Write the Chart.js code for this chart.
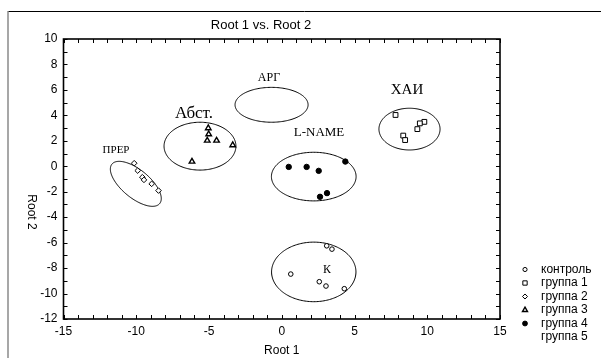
<!DOCTYPE html>
<html><head><meta charset="utf-8">
<script src="https://cdn.jsdelivr.net/npm/chart.js@4"></script>
<style>html,body{margin:0;padding:0;background:#fff}#wrap{width:601px;height:358px;position:relative}</style>
</head><body><div id="wrap"><canvas id="c"></canvas></div>
<script>
// ---- data ----
const seriesNames = ['контроль','группа 1','группа 2','группа 3','группа 4','группа 5'];
const controlX = [3.09, 3.45, 0.62, 2.58, 3.04, 4.30];
const controlY = [-6.25, -6.51, -8.47, -9.07, -9.41, -9.62];
const group1X = [7.82, 9.80, 9.49, 9.32, 8.35, 8.48];
const group1Y = [4.03, 3.49, 3.37, 2.92, 2.41, 2.06];
const group2X = [-10.14, -9.90, -9.58, -9.47, -8.94, -8.47];
const group2Y = [0.24, -0.34, -0.86, -1.07, -1.38, -1.91];
const group3X = [-5.05, -5.02, -5.12, -4.48, -3.37, -6.17];
const group3Y = [3.00, 2.52, 2.02, 2.02, 1.66, 0.37];
const group4X = [0.48, 1.71, 2.54, 4.37, 3.11, 2.63];
const group4Y = [-0.05, -0.05, -0.36, 0.37, -2.11, -2.40];
const group5X = [];
const group5Y = [];
// confidence ellipses (centre + two conjugate semi-axis vectors, data units)
const ellipseNames = ['АРГ','Абст.','ПРЕР','L-NAME','ХАИ','К'];
const ellipseCX = [-0.70, -5.62, -10.03, 2.20, 8.78, 2.20];
const ellipseCY = [4.83, 1.58, -1.38, -0.81, 2.92, -8.30];
const ellipseUX = [2.51, 2.47, 1.64, 2.91, 2.10, 2.90];
const ellipseUY = [0, 0, -1.55, 0, 0, 0];
const ellipseVX = [0, 0, -0.61, 0, 0, 0];
const ellipseVY = [1.37, 1.88, -0.85, 1.91, 1.64, 2.34];
// group labels
const labelTexts = ['АРГ','Абст.','ПРЕР','L-NAME','ХАИ','К'];
const labelX = [-0.88, -6.03, -11.39, 2.56, 8.61, 3.11];
const labelY = [6.94, 4.11, 1.29, 2.62, 6.00, -8.13];
const xTickMin = -15, xTickMax = 15, yTickMin = -12, yTickMax = 10;

// ---- styles ----
const SANS = '"Liberation Sans", Arial, sans-serif';
const SERIF = '"Liberation Serif", "Times New Roman", serif';
const labelSizes = [12, 17, 11, 13, 15, 12];
const styles = [
  {pointStyle:'circle', radius:2.3, borderWidth:1, backgroundColor:'#fff'},
  {pointStyle:'rect', radius:3.4, borderWidth:1, backgroundColor:'#fff'},
  {pointStyle:'rectRot', radius:2.8, borderWidth:1, backgroundColor:'#fff'},
  {pointStyle:'triangle', radius:3.2, borderWidth:1.4, backgroundColor:'#fff'},
  {pointStyle:'circle', radius:2.7, borderWidth:1, backgroundColor:'#000'},
  {pointStyle:false, radius:0, borderWidth:0, backgroundColor:'#fff'}
];
const xsAll = [controlX, group1X, group2X, group3X, group4X, group5X];
const ysAll = [controlY, group1Y, group2Y, group3Y, group4Y, group5Y];

const datasets = seriesNames.map((n,i)=>({
  label:n,
  data: xsAll[i].map((x,j)=>({x:x, y:ysAll[i][j]})),
  pointStyle: styles[i].pointStyle,
  pointRadius: styles[i].radius,
  pointBorderWidth: styles[i].borderWidth,
  pointBackgroundColor: styles[i].backgroundColor,
  pointBorderColor:'#000',
  showLine:false
}));

const deco = {
  id:'deco',
  beforeDraw(chart){
    const ctx = chart.ctx;
    ctx.save();
    ctx.fillStyle='#fff'; ctx.fillRect(0,0,chart.width,chart.height);
    ctx.strokeStyle='#000'; ctx.lineWidth=1;
    ctx.beginPath(); ctx.moveTo(8,11.5); ctx.lineTo(601,11.5); ctx.stroke();
    ctx.strokeStyle='#8a8a8a'; ctx.lineWidth=1.5;
    ctx.beginPath(); ctx.moveTo(8,11); ctx.lineTo(8,358); ctx.stroke();
    ctx.restore();
  },
  beforeDatasetsDraw(chart){
    const ctx = chart.ctx, xs = chart.scales.x, ys = chart.scales.y;
    ctx.save();
    ctx.strokeStyle='#000'; ctx.lineWidth=1;
    for(let i=0;i<ellipseCX.length;i++){
      ctx.beginPath();
      for(let k=0;k<=180;k++){
        const t = k/180*Math.PI*2;
        const dx = ellipseCX[i] + ellipseUX[i]*Math.cos(t) + ellipseVX[i]*Math.sin(t);
        const dy = ellipseCY[i] + ellipseUY[i]*Math.cos(t) + ellipseVY[i]*Math.sin(t);
        const px = xs.getPixelForValue(dx), py = ys.getPixelForValue(dy);
        if(k===0) ctx.moveTo(px,py); else ctx.lineTo(px,py);
      }
      ctx.closePath(); ctx.stroke();
    }
    ctx.fillStyle='#000'; ctx.textAlign='center'; ctx.textBaseline='middle';
    for(let i=0;i<labelTexts.length;i++){
      ctx.font = labelSizes[i]+'px '+SERIF;
      ctx.fillText(labelTexts[i], xs.getPixelForValue(labelX[i]), ys.getPixelForValue(labelY[i]));
    }
    ctx.restore();
  },
  afterDraw(chart){
    const ctx = chart.ctx, a = chart.chartArea, xs = chart.scales.x, ys = chart.scales.y;
    ctx.save();
    ctx.strokeStyle='#000'; ctx.lineWidth=1.6;
    ctx.strokeRect(a.left, a.top, a.right-a.left, a.bottom-a.top);
    ctx.lineWidth=1;
    const L=4;
    ctx.beginPath();
    xs.ticks.forEach(t=>{
      const p = Math.round(xs.getPixelForValue(t.value))+0.5;
      ctx.moveTo(p,a.bottom); ctx.lineTo(p,a.bottom-L);
      ctx.moveTo(p,a.top); ctx.lineTo(p,a.top+L);
    });
    ys.ticks.forEach(t=>{
      const p = Math.round(ys.getPixelForValue(t.value))+0.5;
      ctx.moveTo(a.left,p); ctx.lineTo(a.left+L,p);
      ctx.moveTo(a.right,p); ctx.lineTo(a.right-L,p);
    });
    ctx.stroke();
    // titles
    ctx.fillStyle='#000'; ctx.textAlign='center'; ctx.textBaseline='middle';
    ctx.font='13px '+SANS;
    ctx.fillText('Root 1 vs. Root 2', 261, 25);
    ctx.font='12px '+SANS;
    ctx.fillText('Root 1', (a.left+a.right)/2, 351);
    ctx.save(); ctx.translate(31,212); ctx.rotate(Math.PI/2);
    ctx.fillText('Root 2', 0, 0); ctx.restore();
    // legend
    const rows = [269.5, 283, 296.5, 310, 323.5, 337];
    ctx.textAlign='left';
    seriesNames.forEach((n,i)=>{
      const s = styles[i];
      if(s.pointStyle){
        ctx.fillStyle = s.backgroundColor; ctx.strokeStyle='#000'; ctx.lineWidth=s.borderWidth;
        Chart.helpers.drawPoint(ctx, {pointStyle:s.pointStyle, radius:s.radius*0.9, rotation:0, borderWidth:s.borderWidth}, 525, rows[i]);
      }
      ctx.fillStyle='#000';
      ctx.fillText(n, 541, rows[i]);
    });
    ctx.restore();
  }
};

new Chart(document.getElementById('c'), {
  type:'scatter',
  data:{datasets},
  options:{
    responsive:true, maintainAspectRatio:false, animation:false,
    layout:{padding:{top:39, right:101, bottom:0, left:0}},
    plugins:{legend:{display:false}, title:{display:false}, tooltip:{enabled:false}},
    scales:{
      x:{type:'linear', min:xTickMin, max:xTickMax,
         grid:{display:false, drawTicks:false}, border:{display:false},
         ticks:{stepSize:1, autoSkip:false, maxRotation:0, padding:5, color:'#000',
                font:{family:SANS, size:12},
                callback:v=> (v%5===0 ? String(v) : '')},
         afterFit:s=>{s.height=39;}},
      y:{type:'linear', min:yTickMin, max:yTickMax,
         grid:{display:false, drawTicks:false}, border:{display:false},
         ticks:{stepSize:1, autoSkip:false, padding:6, color:'#000',
                font:{family:SANS, size:12},
                callback:v=> (v%2===0 ? String(v) : '')},
         afterFit:s=>{s.width=63.5;}}
    }
  },
  plugins:[deco]
});
</script></body></html>
